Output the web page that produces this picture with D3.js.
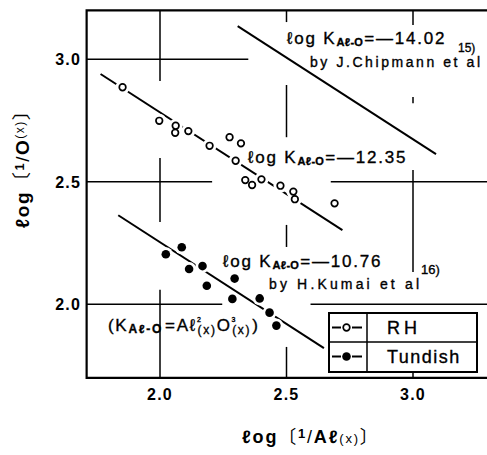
<!DOCTYPE html>
<html>
<head>
<meta charset="utf-8">
<script src="https://cdn.jsdelivr.net/npm/d3@7"></script>
<style>
  html, body { margin: 0; padding: 0; background: #fff; }
  svg { display: block; }
  text { font-family: "Liberation Sans", Arial, "DejaVu Sans", "Noto Sans CJK JP", sans-serif; fill: #000; }
  .note { stroke: #000; stroke-width: 0.35; }
</style>
</head>
<body>
<svg id="chart" width="487" height="455"></svg>
<script>
// ---- data: log(1/Al) vs log(1/O) ----
const rhAl = [1.852, 1.997, 2.062, 2.060, 2.112, 2.196, 2.275, 2.320, 2.299, 2.337, 2.364, 2.401, 2.476, 2.527, 2.533, 2.690];
const rhO  = [2.886, 2.749, 2.729, 2.700, 2.707, 2.647, 2.682, 2.657, 2.586, 2.507, 2.487, 2.510, 2.484, 2.460, 2.429, 2.412];

const tundishAl = [2.023, 2.086, 2.115, 2.168, 2.185, 2.295, 2.286, 2.394, 2.433, 2.460];
const tundishO  = [2.204, 2.233, 2.144, 2.156, 2.076, 2.105, 2.022, 2.024, 1.966, 1.913];

// equilibrium lines: 2·log Al + 3·log O = log K
const logK = [-14.02, -12.35, -10.76];
const logKAlRange = [[2.307, 3.091], [1.765, 2.721], [1.835, 2.648]];

const xTicks = [2.0, 2.5, 3.0];
const yTicks = [2.0, 2.5, 3.0];
const xExtent = [1.71, 3.3];
const yExtent = [1.7, 3.2];

// grid lines are interrupted where labels and data sit
const xGridSpans = [
  [2.0, [[2.911, 3.2], [2.336, 2.597], [1.7, 2.059]]],
  [2.5, [[3.152, 3.2], [2.682, 2.895], [2.234, 2.324], [1.7, 1.826]]],
  [3.0, [[3.14, 3.2], [2.821, 2.846], [2.132, 2.548], [1.7, 1.724]]]
];
const yGridSpans = [
  [3.0, [[1.71, 2.349]]],
  [2.5, [[1.71, 2.206], [2.675, 3.3]]],
  [2.0, [[1.71, 2.246], [2.595, 3.3]]]
];

// ---- scales ----
const x = d3.scaleLinear().domain([2, 3]).range([160, 413]);
const y = d3.scaleLinear().domain([2, 3]).range([304.3, 59.3]);
const fmt = d3.format(".1f");
const oFromAl = (k, al) => (-k - 2 * al) / 3;

const svg = d3.select("#chart");

// ---- grid ----
const grid = svg.append("g").attr("stroke", "#000").attr("stroke-width", 1.5);
xGridSpans.forEach(([v, spans]) => spans.forEach(([a, b]) => {
  grid.append("line").attr("x1", x(v)).attr("x2", x(v)).attr("y1", y(a)).attr("y2", y(b));
}));
yGridSpans.forEach(([v, spans]) => spans.forEach(([a, b]) => {
  grid.append("line").attr("y1", y(v)).attr("y2", y(v)).attr("x1", x(a)).attr("x2", x(b));
}));

// ---- frame ----
svg.append("path").attr("stroke", "#000").attr("stroke-width", 2.2).attr("fill", "none")
  .attr("d", `M${x(xExtent[1])},${y(yExtent[1])} H${x(xExtent[0])} V${y(yExtent[0])} H${x(xExtent[1])}`);

// ---- tick labels ----
svg.append("g").selectAll("text").data(yTicks).join("text")
  .attr("x", 81).attr("y", d => y(d) + 6)
  .attr("text-anchor", "end").attr("font-size", 16).attr("font-weight", "bold")
  .attr("letter-spacing", 1.2)
  .text(fmt);
svg.append("g").selectAll("text").data(xTicks).join("text")
  .attr("x", d => x(d)).attr("y", 400)
  .attr("text-anchor", "middle").attr("font-size", 16).attr("font-weight", "bold")
  .attr("letter-spacing", 1.2)
  .text(fmt);

// ---- equilibrium lines ----
svg.append("g").attr("stroke", "#000").attr("stroke-width", 2)
  .selectAll("line").data(logK).join("line")
  .attr("x1", (k, i) => x(logKAlRange[i][0]))
  .attr("x2", (k, i) => x(logKAlRange[i][1]))
  .attr("y1", (k, i) => y(oFromAl(k, logKAlRange[i][0])))
  .attr("y2", (k, i) => y(oFromAl(k, logKAlRange[i][1])));

// ---- white halos break the lines around the points ----
const rh = rhAl.map((a, i) => [a, rhO[i]]);
const tun = tundishAl.map((a, i) => [a, tundishO[i]]);
svg.append("g").attr("fill", "#fff")
  .selectAll("circle").data(rh.concat(tun)).join("circle")
  .attr("cx", d => x(d[0])).attr("cy", d => y(d[1])).attr("r", 7);

// ---- points ----
svg.append("g").selectAll("circle").data(rh).join("circle")
  .attr("cx", d => x(d[0])).attr("cy", d => y(d[1])).attr("r", 3.3)
  .attr("fill", "#fff").attr("stroke", "#000").attr("stroke-width", 1.7);
svg.append("g").selectAll("circle").data(tun).join("circle")
  .attr("cx", d => x(d[0])).attr("cy", d => y(d[1])).attr("r", 4.3)
  .attr("fill", "#000");

// ---- annotations ----
function kLabel(px, py, k) {
  const t = svg.append("text").attr("class", "note").attr("x", px).attr("y", py)
    .attr("font-size", 17).attr("letter-spacing", 1.8);
  t.append("tspan").text("ℓog K");
  t.append("tspan").attr("font-size", 11).attr("font-weight", "bold").attr("dy", 2)
    .attr("letter-spacing", 0.3).text("Aℓ-O");
  t.append("tspan").attr("dy", -2).attr("dx", 1).text("=—" + Math.abs(k).toFixed(2));
}
kLabel(287, 44, logK[0]);
kLabel(248, 163, logK[1]);
kLabel(223, 267, logK[2]);

svg.append("text").attr("class", "note").attr("x", 458).attr("y", 52).attr("font-size", 12).text("15)");
svg.append("text").attr("class", "note").attr("x", 310).attr("y", 67).attr("font-size", 14)
  .attr("textLength", 170).attr("lengthAdjust", "spacing").text("by J.Chipmann et al");
svg.append("text").attr("class", "note").attr("x", 421).attr("y", 274).attr("font-size", 13).text("16)");
svg.append("text").attr("class", "note").attr("x", 269).attr("y", 289).attr("font-size", 14)
  .attr("textLength", 150).attr("lengthAdjust", "spacing").text("by H.Kumai  et  al");

// definition of K
const def = svg.append("text").attr("class", "note").attr("x", 108).attr("y", 331)
  .attr("font-size", 17).attr("letter-spacing", 1.7);
def.append("tspan").text("(K");
def.append("tspan").attr("font-size", 12).attr("font-weight", "bold").attr("dy", 2).text("Aℓ-O");
def.append("tspan").attr("dy", -2).attr("dx", 2).text("=Aℓ");
def.append("tspan").attr("font-size", 7).attr("dy", -9).text("2");
def.append("tspan").attr("font-size", 12).attr("dx", -5).attr("dy", 12).text("(x)");
def.append("tspan").attr("dy", -3).text("O");
def.append("tspan").attr("font-size", 7).attr("dy", -9).text("3");
def.append("tspan").attr("font-size", 12).attr("dx", -5).attr("dy", 12).text("(x)");
def.append("tspan").attr("dy", -3).attr("dx", 1).text(")");

// ---- axis titles ----
const xt = svg.append("text").attr("x", 242).attr("y", 443)
  .attr("font-size", 18).attr("font-weight", "bold").attr("letter-spacing", 1.8);
xt.append("tspan").text("ℓog");
xt.append("tspan").attr("font-weight", "normal").text("〔");
xt.append("tspan").attr("font-size", 13).attr("dy", -5).text("1");
xt.append("tspan").attr("font-weight", "normal").attr("dy", 5).text("/");
xt.append("tspan").text("Aℓ");
xt.append("tspan").attr("font-size", 13).attr("font-weight", "normal").text("(x)");
xt.append("tspan").attr("font-weight", "normal").text("〕");

const yt = svg.append("text").attr("transform", "translate(29,228) rotate(-90)")
  .attr("font-size", 19).attr("font-weight", "bold").attr("letter-spacing", 1.5);
yt.append("tspan").text("ℓog");
yt.append("tspan").attr("font-weight", "normal").text("〔");
yt.append("tspan").attr("font-size", 13).attr("dy", -5).text("1");
yt.append("tspan").attr("font-weight", "normal").attr("dy", 5).text("/");
yt.append("tspan").text("O");
yt.append("tspan").attr("font-size", 12).attr("font-weight", "normal").attr("dy", -5).text("(x)");
yt.append("tspan").attr("font-weight", "normal").attr("dy", 5).text("〕");

// ---- legend ----
const lg = svg.append("g").attr("transform", "translate(329,313)");
lg.append("rect").attr("width", 148).attr("height", 59)
  .attr("fill", "#fff").attr("stroke", "#000").attr("stroke-width", 2);
lg.append("line").attr("x1", 38).attr("x2", 38).attr("y1", 0).attr("y2", 59).attr("stroke", "#000").attr("stroke-width", 1.5);
lg.append("line").attr("x1", 0).attr("x2", 148).attr("y1", 29).attr("y2", 29).attr("stroke", "#000").attr("stroke-width", 1.5);
const legendItems = [
  { name: "RH", filled: false, cy: 14.5 },
  { name: "Tundish", filled: true, cy: 43.5 }
];
legendItems.forEach(it => {
  lg.append("line").attr("x1", 3).attr("x2", 12).attr("y1", it.cy).attr("y2", it.cy).attr("stroke", "#000").attr("stroke-width", 2);
  lg.append("line").attr("x1", 23).attr("x2", 33).attr("y1", it.cy).attr("y2", it.cy).attr("stroke", "#000").attr("stroke-width", 2);
  lg.append("circle").attr("cx", 17.5).attr("cy", it.cy).attr("r", it.filled ? 4.3 : 3.3)
    .attr("fill", it.filled ? "#000" : "#fff").attr("stroke", "#000").attr("stroke-width", it.filled ? 0 : 1.7);
  lg.append("text").attr("class", "note").attr("x", 58).attr("y", it.cy + 6.5).attr("font-size", 18)
    .attr("letter-spacing", it.filled ? 1.5 : 4).text(it.name);
});
</script>
</body>
</html>
